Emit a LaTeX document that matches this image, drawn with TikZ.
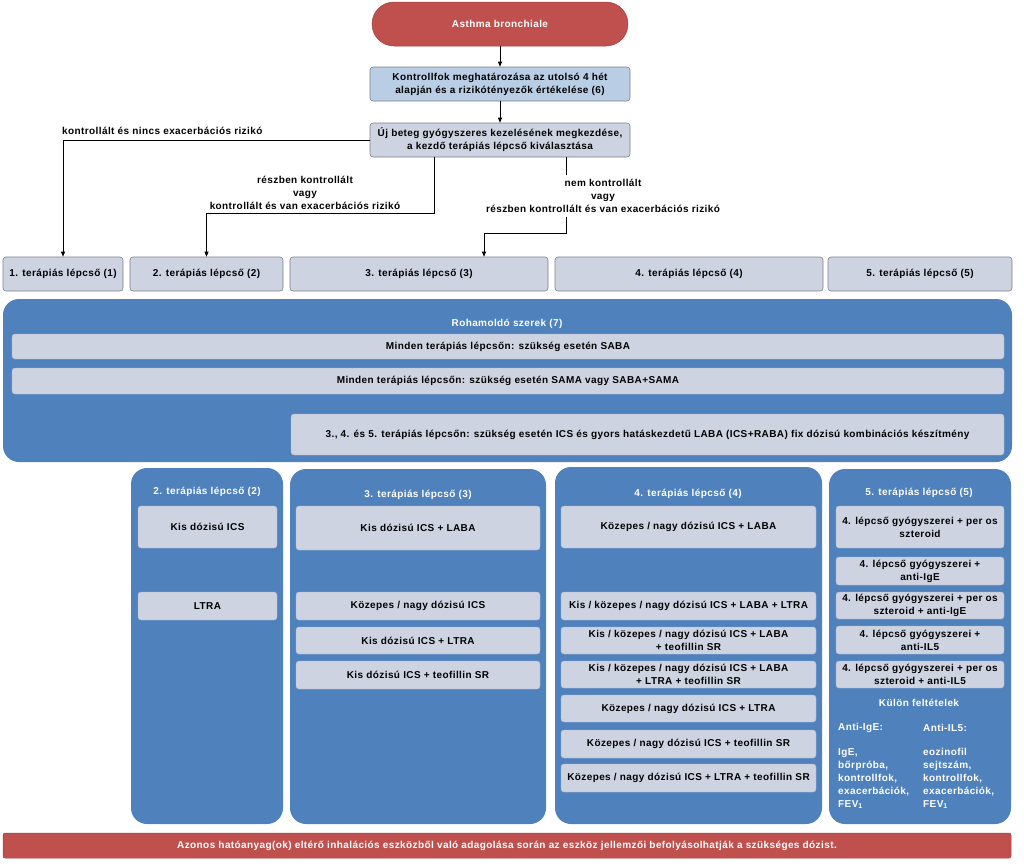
\documentclass[tikz,border=0pt]{standalone}
\usepackage{fontspec}
\setmainfont{Liberation Sans}[LetterSpace=4]
\usetikzlibrary{arrows.meta}
\definecolor{cred}{RGB}{192,80,77}
\definecolor{credb}{RGB}{165,62,60}
\definecolor{cblue}{RGB}{79,129,189}
\definecolor{clight}{RGB}{185,205,229}
\definecolor{cgray}{RGB}{205,211,225}
\definecolor{cbord}{RGB}{125,128,138}
\definecolor{ibord}{RGB}{178,186,204}
\tikzset{
  txt/.style={font=\bfseries\fontsize{10}{13}\selectfont, inner sep=0pt, align=center},
  obox/.style={txt, rectangle, rounded corners=3pt, fill=cgray, draw=cbord, line width=0.6pt},
  kbox/.style={obox, fill=clight},
  ibox/.style={txt, rectangle, rounded corners=3pt, fill=cgray, draw=ibord, line width=0.4pt},
  panel/.style={fill=cblue, rounded corners=16pt},
  redbar/.style={txt, text=white, fill=cred, draw=credb, line width=0.5pt},
  ptitle/.style={txt, text=white},
  arr/.style={line width=0.7pt, -{Triangle[length=5pt,width=4pt]}},
  conn/.style={line width=0.7pt}
}
\newcommand{\mybox}[7]{\node[#1, minimum width={#5-#3}, minimum height={#6-#4}] (#2) at ({(#3+#5)/2},{(#4+#6)/2}) {#7};}
\begin{document}
\begin{tikzpicture}[x=1pt,y=-1pt]
\useasboundingbox[fill=white] (0,0) rectangle (1024,863);
% top chain
\mybox{redbar, rounded corners=22pt}{asthma}{372}{2}{628}{46}{Asthma bronchiale}
\mybox{kbox}{kontroll}{370}{67}{630}{101}{Kontrollfok meghatározása az utolsó 4 hét\\alapján és a rizikótényezők értékelése (6)}
\mybox{obox}{uj}{370}{123}{630}{157}{Új beteg gyógyszeres kezelésének megkezdése,\\a kezdő terápiás lépcső kiválasztása}
% step row
\mybox{obox}{s1}{3}{257}{123}{291}{1. terápiás lépcső (1)}
\mybox{obox}{s2}{130}{257}{283}{291}{2. terápiás lépcső (2)}
\mybox{obox}{s3}{290}{257}{548}{291}{3. terápiás lépcső (3)}
\mybox{obox}{s4}{555}{257}{823}{291}{4. terápiás lépcső (4)}
\mybox{obox}{s5}{828}{257}{1012}{291}{5. terápiás lépcső (5)}
% connectors
\draw[arr] (asthma) -- (kontroll);
\draw[arr] (kontroll) -- (uj);
\draw[arr] (uj.west) -| (s1.north);
\coordinate (c1) at (206.5,213);
\coordinate (c2) at (484,233);
\draw[arr] ([xshift=-66pt]uj.south) |- (c1) -- (s2.north);
\draw[arr] ([xshift=66pt]uj.south) |- (c2) -- (c2 |- s3.north);
\node[txt, anchor=west] (l1) at (62,131) {kontrollált és nincs exacerbációs rizikó};
\node[txt] (l2) at (305,193) {részben kontrollált\\vagy\\kontrollált és van exacerbációs rizikó};
\node[txt, fill=white, inner sep=4pt] (l3) at (603,196) {nem kontrollált\\vagy\\részben kontrollált és van exacerbációs rizikó};
% Rohamoldo panel
\fill[panel] (3,299) rectangle (1012,462);
\node[ptitle] (rt) at (507,324) {Rohamoldó szerek (7)};
\mybox{ibox}{saba}{12}{334}{1004}{359}{Minden terápiás lépcsőn: szükség esetén SABA}
\mybox{ibox}{sama}{12}{368}{1004}{394}{Minden terápiás lépcsőn: szükség esetén SAMA vagy SABA+SAMA}
\mybox{ibox}{raba}{291}{414}{1004}{455}{3., 4. és 5. terápiás lépcsőn: szükség esetén ICS és gyors hatáskezdetű LABA (ICS+RABA) fix dózisú kombinációs készítmény}
% column panels
\fill[panel] (131,468) rectangle (283,824);
\fill[panel] (290,469) rectangle (546,824);
\fill[panel] (555,467) rectangle (822,824);
\fill[panel] (829,469) rectangle (1011,824);
% col 2
\node[ptitle] (t2) at (207,492) {2. terápiás lépcső (2)};
\mybox{ibox}{b21}{138}{506}{277}{548}{Kis dózisú ICS}
\mybox{ibox}{b22}{138}{592}{277}{620}{LTRA}
% col 3
\node[ptitle] (t3) at (418,495) {3. terápiás lépcső (3)};
\mybox{ibox}{b31}{296}{506}{540}{550}{Kis dózisú ICS + LABA}
\mybox{ibox}{b32}{296}{592}{540}{620}{Közepes / nagy dózisú ICS}
\mybox{ibox}{b33}{296}{627}{540}{654}{Kis dózisú ICS + LTRA}
\mybox{ibox}{b34}{296}{661}{540}{689}{Kis dózisú ICS + teofillin SR}
% col 4
\node[ptitle] (t4) at (688,494) {4. terápiás lépcső (4)};
\mybox{ibox}{b41}{561}{506}{816}{548}{Közepes / nagy dózisú ICS + LABA}
\mybox{ibox}{b42}{561}{592}{816}{620}{Kis / közepes / nagy dózisú ICS + LABA + LTRA}
\mybox{ibox}{b43}{561}{627}{816}{654}{Kis / közepes / nagy dózisú ICS + LABA\\+ teofillin SR}
\mybox{ibox}{b44}{561}{661}{816}{688}{Kis / közepes / nagy dózisú ICS + LABA\\+ LTRA + teofillin SR}
\mybox{ibox}{b45}{561}{695}{816}{722}{Közepes / nagy dózisú ICS + LTRA}
\mybox{ibox}{b46}{561}{730}{816}{758}{Közepes / nagy dózisú ICS + teofillin SR}
\mybox{ibox}{b47}{561}{764}{816}{792}{Közepes / nagy dózisú ICS + LTRA + teofillin SR}
% col 5
\node[ptitle] (t5) at (919,493) {5. terápiás lépcső (5)};
\mybox{ibox}{b51}{836}{506}{1004}{548}{4. lépcső gyógyszerei + per os\\szteroid}
\mybox{ibox}{b52}{836}{557}{1004}{585}{4. lépcső gyógyszerei +\\anti-IgE}
\mybox{ibox}{b53}{836}{592}{1004}{619}{4. lépcső gyógyszerei + per os\\szteroid + anti-IgE}
\mybox{ibox}{b54}{836}{626}{1004}{654}{4. lépcső gyógyszerei +\\anti-IL5}
\mybox{ibox}{b55}{836}{661}{1004}{688}{4. lépcső gyógyszerei + per os\\szteroid + anti-IL5}
\node[ptitle] (kf) at (919,703) {Külön feltételek};
\node[ptitle, anchor=west] (ai) at (838,728) {Anti-IgE:};
\node[ptitle, anchor=west] (al) at (923,728) {Anti-IL5:};
\node[ptitle, anchor=north west, align=left] (ait) at (838,748) {IgE,\\bőrpróba,\\kontrollfok,\\exacerbációk,\\FEV\textsubscript{1}};
\node[ptitle, anchor=north west, align=left] (alt) at (923,748) {eozinofil\\sejtszám,\\kontrollfok,\\exacerbációk,\\FEV\textsubscript{1}};
% bottom bar
\mybox{redbar, rounded corners=2pt}{foot}{3}{833}{1011}{858}{Azonos hatóanyag(ok) eltérő inhalációs eszközből való adagolása során az eszköz jellemzői befolyásolhatják a szükséges dózist.}
\end{tikzpicture}
\end{document}
